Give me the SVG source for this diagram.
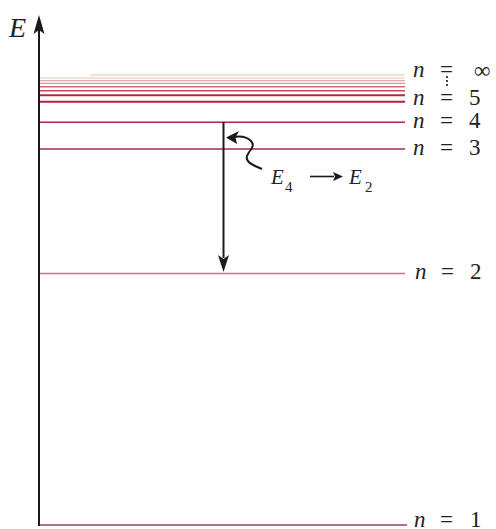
<svg xmlns="http://www.w3.org/2000/svg" width="496" height="529" viewBox="0 0 496 529">
<style>
.lbl{font-family:"Liberation Serif","Times New Roman",Tinos,serif;font-size:23px;fill:#222}
.it{font-style:italic}
.ax{stroke:#1a1a1a;stroke-width:2;fill:none}
.blk{fill:#1a1a1a}
</style>
<rect width="496" height="529" fill="#ffffff"/>
<g id="levels">
<line x1="90" y1="75" x2="405" y2="75" stroke="#eed6c6" stroke-width="1.5"/>
<line x1="39" y1="78" x2="405" y2="78" stroke="#e8c4b6" stroke-width="1.2"/>
<line x1="39" y1="80.7" x2="405" y2="80.7" stroke="#e0aea6" stroke-width="1.3"/>
<line x1="39" y1="83.4" x2="405" y2="83.4" stroke="#d8969a" stroke-width="1.4"/>
<line x1="39" y1="86.7" x2="405" y2="86.7" stroke="#cc7280" stroke-width="1.5"/>
<line x1="39" y1="90.7" x2="405" y2="90.7" stroke="#c04c60" stroke-width="1.6"/>
<line x1="39" y1="95.3" x2="405" y2="95.3" stroke="#b02a44" stroke-width="2"/>
<line x1="39" y1="101.7" x2="405" y2="101.7" stroke="#ac2242" stroke-width="2"/>
<line x1="39" y1="122.3" x2="405" y2="122.3" stroke="#a8284c" stroke-width="1.6"/>
<line x1="39" y1="149" x2="405" y2="149" stroke="#a8284c" stroke-width="1.6"/>
<line x1="39" y1="273.5" x2="405" y2="273.5" stroke="#c87288" stroke-width="1.5"/>
<line x1="39" y1="525" x2="407" y2="525" stroke="#9c3a66" stroke-width="1.6"/>
</g>
<g id="axis">
<line class="ax" x1="39" y1="526" x2="39" y2="28"/>
<polygon class="blk" points="39,15 44.5,34 39,30 33.5,34"/>
<text x="9" y="37" class="lbl it" style="font-size:28px">E</text>
</g>
<g id="labels">
<text x="413" y="77" class="lbl it">n</text><text x="440" y="77" class="lbl">=</text><text x="474" y="78" class="lbl">∞</text>
<circle cx="447" cy="77" r="1.1" class="blk"/><circle cx="447" cy="81" r="1.1" class="blk"/><circle cx="447" cy="85" r="1.1" class="blk"/>
<text x="413" y="105" class="lbl it">n</text><text x="440" y="105" class="lbl">=</text><text x="469" y="105" class="lbl">5</text>
<text x="413" y="127.5" class="lbl it">n</text><text x="440" y="127.5" class="lbl">=</text><text x="469" y="127.5" class="lbl">4</text>
<text x="413" y="155" class="lbl it">n</text><text x="440" y="155" class="lbl">=</text><text x="469" y="155" class="lbl">3</text>
<text x="415" y="278.5" class="lbl it">n</text><text x="441" y="278.5" class="lbl">=</text><text x="470" y="278.5" class="lbl">2</text>
<text x="414" y="527" class="lbl it">n</text><text x="440" y="527" class="lbl">=</text><text x="470" y="527" class="lbl">1</text>
</g>
<g id="connectors">
<line x1="223.5" y1="122" x2="223.5" y2="258" stroke="#1a1a1a" stroke-width="2"/>
<polygon class="blk" points="223.5,272 229,255 223.5,259 218,255"/>
<path d="M262,169 C254,166 245,162 247,156 C249,150 256,147 251,141 C247,137 240,136 234,137" stroke="#1a1a1a" stroke-width="2" fill="none"/>
<polygon class="blk" points="226,137.5 239,131 235.5,137.5 237,144"/>
</g>
<g id="transition-label">
<text x="271" y="184" class="lbl it" style="font-size:21px">E</text>
<text x="285" y="191.5" class="lbl" style="font-size:15px">4</text>
<line x1="310" y1="176.5" x2="334" y2="176.5" stroke="#1a1a1a" stroke-width="1.6"/>
<polygon class="blk" points="343,176.5 333,172 335,176.5 333,181"/>
<text x="349" y="184" class="lbl it" style="font-size:21px">E</text>
<text x="365" y="191.5" class="lbl" style="font-size:15px">2</text>
</g>
</svg>
